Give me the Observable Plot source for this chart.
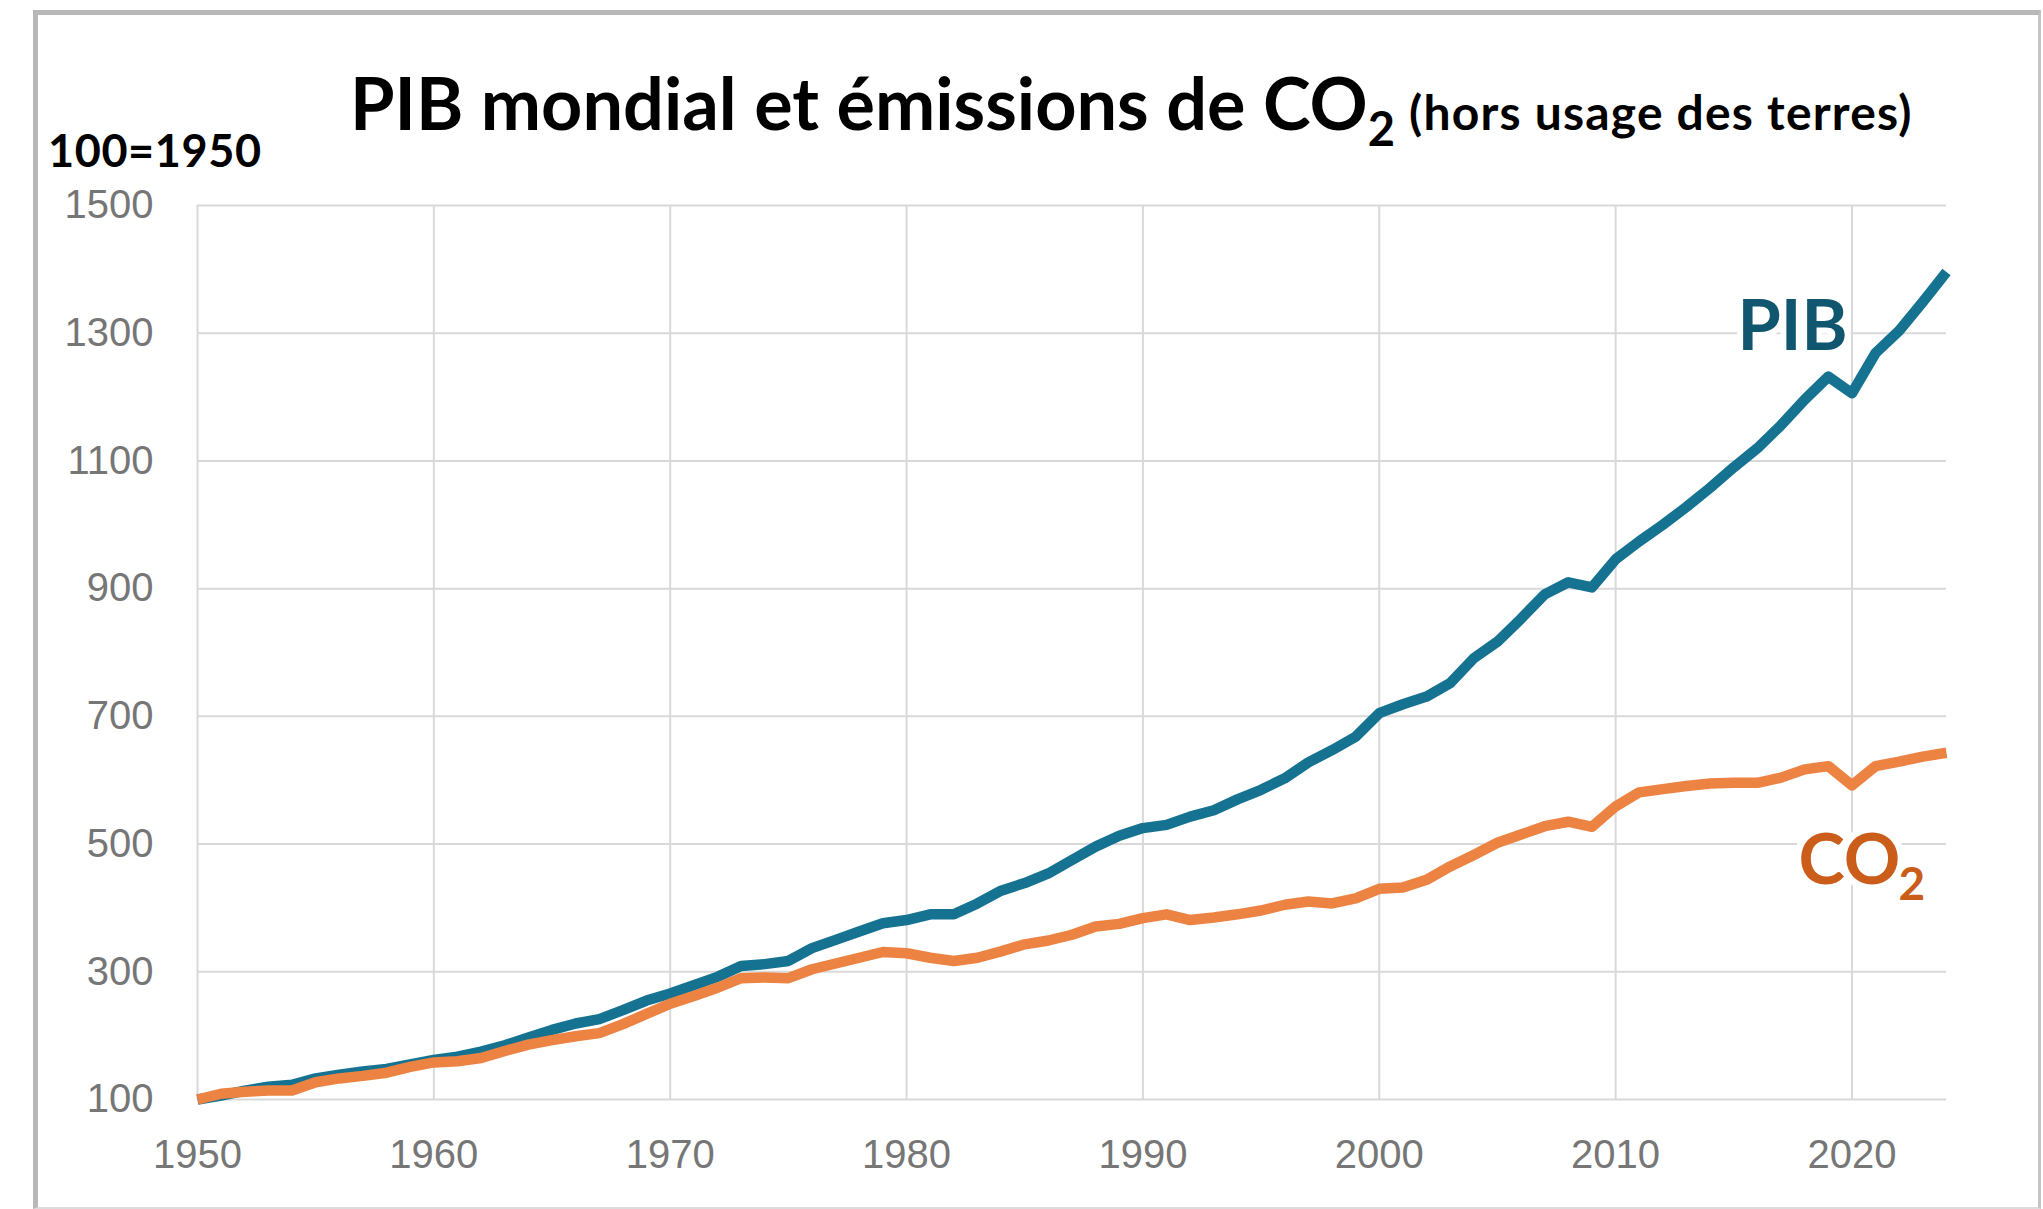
<!DOCTYPE html>
<html>
<head>
<meta charset="utf-8">
<script src="https://cdn.jsdelivr.net/npm/d3@7"></script>
<script src="https://cdn.jsdelivr.net/npm/@observablehq/plot@0.6"></script>
<style>
html, body { margin: 0; padding: 0; background: #fff; }
#wrap { position: relative; width: 2043px; height: 1209px; overflow: hidden; background: #fff; }
#head { display: block; }
#chart svg { display: block; }
#frame { position: absolute; left: 33px; top: 10px; width: 2008px; height: 1199px; box-sizing: border-box;
  border-left: 5px solid #b8b8b8; border-top: 5px solid #b8b8b8; border-right: 3px solid #c4c4c4; border-bottom: 2px solid #dcdcdc;
  pointer-events: none; }
</style>
</head>
<body>
<div id="wrap">
  <svg id="head" width="2043" height="180">
    <text x="350" y="130" font-family="Lato, 'Open Sans', sans-serif" font-weight="700" font-size="72" fill="#000">PIB mondial et émissions de CO<tspan font-size="47" dy="16">2</tspan><tspan font-size="48" dy="-16" dx="14" letter-spacing="1.2">(hors usage des terres)</tspan></text>
    <text x="48" y="167" font-family="Lato, 'Open Sans', sans-serif" font-weight="700" font-size="45" letter-spacing="0.6" fill="#000">100=1950</text>
  </svg>
  <div id="chart"></div>
  <div id="frame"></div>
</div>
<script>
const years = [1950,1951,1952,1953,1954,1955,1956,1957,1958,1959,
  1960,1961,1962,1963,1964,1965,1966,1967,1968,1969,
  1970,1971,1972,1973,1974,1975,1976,1977,1978,1979,
  1980,1981,1982,1983,1984,1985,1986,1987,1988,1989,
  1990,1991,1992,1993,1994,1995,1996,1997,1998,1999,
  2000,2001,2002,2003,2004,2005,2006,2007,2008,2009,
  2010,2011,2012,2013,2014,2015,2016,2017,2018,2019,
  2020,2021,2022,2023,2024];

const pib = [100,106,114,120,123,133,139,144,148,155,
  162,167,175,185,197,209,219,226,240,255,
  266,279,292,309,312,317,337,350,363,376,
  381,390,390,407,427,439,454,475,496,513,
  525,530,543,553,570,585,603,628,647,668,
  705,719,731,752,791,817,853,891,910,902,
  946,974,1000,1028,1058,1090,1120,1156,1196,1232,
  1206,1269,1304,1349,1396];

const co2 = [100,109,112,114,114,127,133,137,142,151,
  158,160,165,176,186,193,199,204,218,234,
  250,262,275,290,291,290,304,313,322,331,
  329,322,317,322,332,343,349,358,371,375,
  384,390,381,385,390,396,405,410,407,415,
  430,432,444,465,483,502,515,528,535,527,
  559,581,586,591,595,596,596,604,617,622,
  592,622,629,637,643];

const xTicks = [1950,1960,1970,1980,1990,2000,2010,2020];
const yTicks = [100,300,500,700,900,1100,1300,1500];
const seriesLabels = ["PIB", "CO", "2"];

const pibRows = years.map((y, i) => ({year: y, value: pib[i]}));
const co2Rows = years.map((y, i) => ({year: y, value: co2[i]}));
const lastPib = pibRows[pibRows.length - 1];
const lastCo2 = co2Rows[co2Rows.length - 1];

const chart = Plot.plot({
  width: 2043,
  height: 1029,
  marginLeft: 197,
  marginRight: 97,
  marginTop: 25,
  marginBottom: 110,
  style: {fontFamily: "'Liberation Sans', Arial, sans-serif", fontSize: "40px", color: "#767676", background: "transparent", overflow: "visible"},
  x: {domain: [1950, 2024], ticks: xTicks, tickFormat: d => String(d), tickSize: 0, tickPadding: 40, label: null},
  y: {domain: [100, 1500], ticks: yTicks, tickFormat: d => String(d), tickSize: 0, tickPadding: 44, label: null},
  marks: [
    Plot.gridX(xTicks, {stroke: "#d9d9d9", strokeWidth: 2, strokeOpacity: 1}),
    Plot.gridY(yTicks, {stroke: "#d9d9d9", strokeWidth: 2, strokeOpacity: 1}),
    Plot.line(pibRows, {x: "year", y: "value", stroke: "#157391", strokeWidth: 10.5, strokeLinejoin: "round", strokeLinecap: "butt"}),
    Plot.line(co2Rows, {x: "year", y: "value", stroke: "#EC8342", strokeWidth: 10.5, strokeLinejoin: "round", strokeLinecap: "butt"}),
    Plot.text([lastPib], {x: "year", y: "value", text: () => seriesLabels[0], textAnchor: "start", lineAnchor: "bottom",
      dx: -209, dy: 78, fontSize: 70, fontWeight: "bold", fontFamily: "Lato, sans-serif", fill: "#10566F",
      stroke: "white", strokeWidth: 12}),
    Plot.text([lastCo2], {x: "year", y: "value", text: () => seriesLabels[1], textAnchor: "start", lineAnchor: "bottom",
      dx: -148, dy: 131, fontSize: 70, fontWeight: "bold", fontFamily: "Lato, sans-serif", fill: "#CB5D1A",
      stroke: "white", strokeWidth: 14}),
    Plot.text([lastCo2], {x: "year", y: "value", text: () => seriesLabels[2], textAnchor: "start", lineAnchor: "bottom",
      dx: -48, dy: 147, fontSize: 46, fontWeight: "bold", fontFamily: "Lato, sans-serif", fill: "#CB5D1A",
      stroke: "white", strokeWidth: 10})
  ]
});
document.getElementById("chart").appendChild(chart);
</script>
</body>
</html>
